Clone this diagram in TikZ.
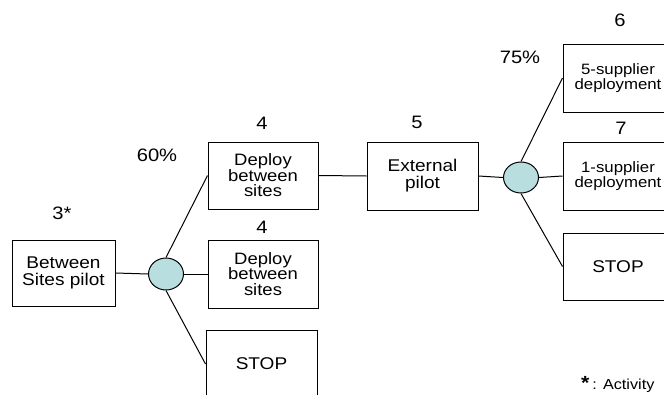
\documentclass[tikz,border=0pt]{standalone}
\usepackage{fontspec}
\setmainfont{Liberation Sans}[FakeStretch=1.12]
\usetikzlibrary{shapes.geometric}
\definecolor{dotfill}{RGB}{184,222,224}
\begin{document}
\begin{tikzpicture}[x=1pt,y=-1pt,
  box/.style={draw,line width=1pt,inner sep=0pt,align=center,minimum width=110pt,minimum height=68pt},
  chance/.style={draw,line width=1pt,ellipse,fill=dotfill,inner sep=0pt,minimum width=35pt,minimum height=32pt},
  lbl/.style={inner sep=0pt,font=\fontsize{18}{18}\selectfont},
  pct/.style={inner sep=0pt,font=\fontsize{18}{18}\selectfont},
  big/.style={font=\fontsize{17}{17}\selectfont},
  tight/.style={font=\fontsize{16.5}{15.5}\selectfont},
  small/.style={font=\fontsize{15}{13}\selectfont},
  link/.style={line width=1pt}]
\useasboundingbox (0,0) rectangle (664,394);
\clip (0,0) rectangle (664,394);
% boxes
\node[box,big,minimum width=103pt,minimum height=66pt] (A) at (63.5,273) {Between\\Sites pilot};
\node[box,tight,minimum height=67pt] (B1) at (263,175.5) {Deploy\\between\\sites};
\node[box,tight] (B2) at (263,274) {Deploy\\between\\sites};
\node[box,big,minimum width=111pt] (S1) at (261.5,364) {STOP};
\node[box,big,minimum width=111pt] (E) at (422.5,176) {External\\pilot};
\node[box,small] (R1) at (618,78) {5-supplier\\deployment};
\node[box,small] (R2) at (618,176) {1-supplier\\deployment};
\node[box,big,minimum height=67pt] (R3) at (618,266.5) {STOP};
% chance nodes
\node[chance] (c1) at (166,274) {};
\node[chance,minimum height=31pt] (c2) at (521,177.5) {};
% labels
\node[lbl] (l3) at (62,213) {3*};
\node[lbl] (l4a) at (262,123) {4};
\node[lbl] (l4b) at (262,227) {4};
\node[lbl] (l5) at (417,122) {5};
\node[lbl] (l6) at (620,20) {6};
\node[lbl] (l7) at (621,128) {7};
\node[pct] (p60) at (157,155) {60\%};
\node[pct] (p75) at (520,57) {75\%};
\node[inner sep=0pt,anchor=base west] (act) at (581,389) {{\fontsize{19}{19}\selectfont\bfseries *}\hspace{3pt}{\fontsize{14.5}{14.5}\selectfont : Activity}};
% connectors
\draw[link] (A.east) -- (c1.west);
\draw[link] (c1.east) -- (B2.west);
\draw[link] (c1.north) -- (B1.west);
\draw[link] (c1.south) -- (S1.west);
\draw[link] (B1.east) -- (E.west);
\draw[link] (E.east) -- (c2.west);
\draw[link] (c2.east) -- (R2.west);
\draw[link] (c2.north) -- (R1.west);
\draw[link] (c2.south) -- (R3.west);
\end{tikzpicture}
\end{document}
